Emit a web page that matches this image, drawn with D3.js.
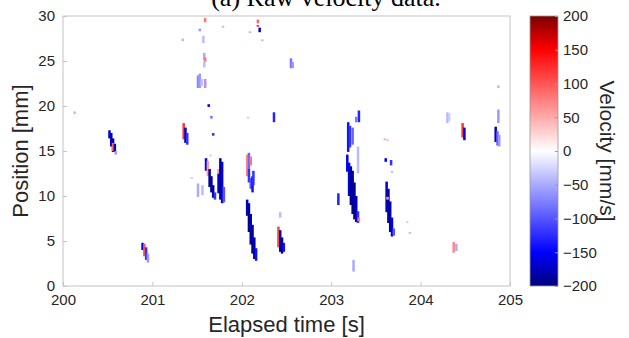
<!DOCTYPE html>
<html lang="en">
<head>
<meta charset="utf-8">
<title>Raw velocity data</title>
<script src="https://cdn.jsdelivr.net/npm/d3@7"></script>
<style>
  body { margin: 0; background: #fff; }
  text { font-family: "Liberation Sans", Arial, sans-serif; fill: #262626; }
  .title { font-family: "Liberation Serif", "Times New Roman", serif; fill: #000; }
</style>
</head>
<body>
<script>
// ticks
const xTicks = [200, 201, 202, 203, 204, 205];
const yTicks = [0, 5, 10, 15, 20, 25, 30];
const cbTicks = [-200, -150, -100, -50, 0, 50, 100, 150, 200];

// velocity cells: [time s, pos from mm, pos to mm, velocity mm/s]
const burst200 = [
  [200.13, 19.1, 19.4, -40],
  [200.52, 16.4, 17.3, -160], [200.54, 15.5, 17.0, -170], [200.56, 14.9, 16.4, -190],
  [200.56, 15.0, 15.9, 90], [200.58, 14.9, 15.8, -180], [200.59, 14.6, 15.0, -60],
  [200.89, 4.0, 4.8, -150], [200.91, 3.3, 4.7, 100], [200.93, 2.9, 4.3, -120],
  [200.95, 2.6, 3.6, -60]
];
const burst201 = [
  [201.35, 16.3, 18.1, 120], [201.37, 15.9, 17.6, -170], [201.39, 15.7, 17.0, -120],
  [201.34, 27.2, 27.5, -40],
  [201.59, 29.3, 29.8, 80], [201.53, 28.3, 28.6, -60], [201.57, 27.0, 27.8, -40],
  [201.58, 25.1, 25.9, -50], [201.59, 24.9, 25.4, 80], [201.58, 24.3, 24.9, -40],
  [201.51, 22.0, 23.4, -70], [201.53, 22.0, 23.6, -60], [201.55, 22.2, 23.0, -40],
  [201.59, 22.0, 23.0, -60], [201.59, 22.2, 22.6, 70],
  [201.63, 19.9, 20.2, -150], [201.66, 18.6, 18.9, -80], [201.68, 16.7, 17.0, -120],
  [201.65, 14.4, 14.6, -30], [201.44, 11.9, 12.1, -30],
  [201.51, 9.9, 11.4, -50], [201.56, 10.1, 11.2, -40],
  [201.60, 12.8, 14.2, -160], [201.62, 12.2, 13.9, 60], [201.64, 11.0, 13.0, -190],
  [201.66, 10.4, 12.2, -190], [201.68, 9.8, 11.2, -180], [201.70, 9.6, 10.4, -120],
  [201.74, 10.3, 12.5, -170], [201.74, 12.5, 13.0, 60], [201.76, 9.6, 14.2, -190],
  [201.78, 9.2, 13.8, -160], [201.80, 9.3, 11.0, -100],
  [201.79, 28.7, 28.9, -40]
];
const burst202 = [
  [202.18, 29.2, 29.6, 90], [202.18, 28.8, 29.0, 120], [202.20, 28.2, 28.7, -170],
  [202.09, 28.1, 28.3, -40], [202.23, 27.2, 27.4, -40],
  [202.55, 24.2, 25.3, -80], [202.57, 24.2, 24.9, -60],
  [202.36, 18.2, 19.3, -130], [202.07, 18.6, 18.8, -30],
  [202.06, 12.2, 14.6, 70], [202.08, 13.0, 14.8, -90], [202.10, 13.4, 14.4, 80],
  [202.08, 11.5, 13.0, -120], [202.10, 10.8, 12.0, -100], [202.12, 10.4, 12.2, -140],
  [202.13, 11.2, 12.8, -120],
  [202.06, 7.8, 9.6, -170], [202.08, 6.0, 9.2, -190], [202.10, 4.6, 8.0, -180],
  [202.12, 3.6, 6.8, -190], [202.14, 3.0, 5.4, -180], [202.16, 2.8, 4.2, -140],
  [202.41, 4.3, 6.6, 110], [202.43, 3.8, 6.2, -180], [202.45, 3.6, 5.4, -190],
  [202.47, 3.8, 4.8, -140], [202.43, 7.6, 8.2, -40]
];
const burst203 = [
  [203.31, 18.2, 19.5, -130], [203.28, 18.2, 18.8, -80],
  [203.19, 14.9, 18.2, -140], [203.21, 15.4, 17.8, -120], [203.24, 15.7, 17.6, -90],
  [203.18, 12.7, 14.6, -150],
  [203.20, 10.0, 13.7, -160], [203.22, 9.0, 13.3, -190], [203.24, 8.0, 12.8, -190],
  [203.26, 7.4, 11.5, -190], [203.28, 7.1, 10.0, -170], [203.30, 7.0, 8.3, -120],
  [203.31, 7.2, 7.6, 80], [203.30, 12.5, 15.5, -40],
  [203.08, 9.0, 10.3, -130], [203.25, 1.6, 2.9, -50],
  [203.61, 13.8, 14.2, -150], [203.67, 13.4, 14.0, -120], [203.68, 12.6, 12.8, -40],
  [203.63, 16.1, 16.3, 40], [203.60, 16.2, 16.4, -40],
  [203.62, 8.2, 11.6, -170], [203.64, 7.0, 10.8, -190], [203.63, 9.6, 9.9, 60],
  [203.66, 6.0, 9.4, -180], [203.68, 5.5, 7.6, -160], [203.70, 5.6, 6.4, -100],
  [203.85, 7.0, 7.2, -30], [203.88, 5.8, 6.0, -40]
];
const burst204 = [
  [204.30, 18.1, 19.3, -40], [204.32, 18.3, 19.2, -30],
  [204.47, 16.5, 18.1, 120], [204.49, 16.2, 17.6, -160],
  [204.37, 3.7, 4.9, 70], [204.40, 3.9, 4.7, -50],
  [204.84, 16.0, 17.7, -170], [204.86, 15.6, 17.2, -90], [204.88, 15.5, 16.8, -60],
  [204.87, 18.1, 19.6, -60], [204.87, 22.0, 22.3, -40]
];
const cells = [...burst200, ...burst201, ...burst202, ...burst203, ...burst204];

const W = 629, H = 338;
const plot = { left: 63, right: 510, top: 16, bottom: 286 };
const cb = { left: 530, right: 558 };
const cellWidth = 0.028;

const svg = d3.select('body').append('svg')
  .attr('width', W).attr('height', H);

const x = d3.scaleLinear().domain([200, 205]).range([plot.left, plot.right]);
const y = d3.scaleLinear().domain([0, 30]).range([plot.bottom, plot.top]);
const color = d3.scaleLinear()
  .domain([-200, -150, 0, 150, 200])
  .range(['#00007d', '#0000ff', '#ffffff', '#ff0000', '#7d0000']);

// cells
svg.append('g').selectAll('rect')
  .data(cells)
  .join('rect')
    .attr('x', d => x(d[0] - cellWidth / 2))
    .attr('width', x(200 + cellWidth) - x(200))
    .attr('y', d => y(d[2]))
    .attr('height', d => y(d[1]) - y(d[2]))
    .attr('fill', d => color(d[3]));

// axes box
svg.append('rect')
  .attr('x', plot.left).attr('y', plot.top)
  .attr('width', plot.right - plot.left).attr('height', plot.bottom - plot.top)
  .attr('fill', 'none').attr('stroke', '#c4c4c4');

const xAxis = svg.append('g')
  .attr('transform', `translate(0, ${plot.bottom})`)
  .call(d3.axisBottom(x).tickValues(xTicks).tickFormat(d3.format('d'))
    .tickSizeInner(-4).tickSizeOuter(0).tickPadding(8));
const yAxis = svg.append('g')
  .attr('transform', `translate(${plot.left}, 0)`)
  .call(d3.axisLeft(y).tickValues(yTicks).tickSizeInner(-4).tickSizeOuter(0).tickPadding(8));
[xAxis, yAxis].forEach(a => {
  a.select('.domain').remove();
  a.selectAll('line').attr('stroke', '#c4c4c4');
  a.selectAll('text').attr('fill', '#262626').style('font-size', '15px')
    .style('font-family', '"Liberation Sans", Arial, sans-serif');
});

// colorbar
const cbScale = d3.scaleLinear().domain([-200, 200]).range([plot.bottom, plot.top]);
const grad = svg.append('defs').append('linearGradient')
  .attr('id', 'cbgrad').attr('x1', 0).attr('y1', 1).attr('x2', 0).attr('y2', 0);
grad.selectAll('stop')
  .data(d3.range(-200, 201, 25))
  .join('stop')
    .attr('offset', d => (d + 200) / 400)
    .attr('stop-color', d => color(d));
svg.append('rect')
  .attr('x', cb.left).attr('y', plot.top)
  .attr('width', cb.right - cb.left).attr('height', plot.bottom - plot.top)
  .attr('fill', 'url(#cbgrad)').attr('stroke', '#9a9a9a').attr('stroke-width', 0.8);
const cbAxis = svg.append('g')
  .attr('transform', `translate(${cb.right}, 0)`)
  .call(d3.axisRight(cbScale).tickValues(cbTicks).tickSizeInner(-3).tickSizeOuter(0).tickPadding(5));
cbAxis.select('.domain').remove();
cbAxis.selectAll('line').attr('stroke', '#9a9a9a');
cbAxis.selectAll('text').attr('fill', '#262626').style('font-size', '15px')
  .style('font-family', '"Liberation Sans", Arial, sans-serif');

// labels
svg.append('text')
  .attr('x', (plot.left + plot.right) / 2).attr('y', 332)
  .attr('text-anchor', 'middle').style('font-size', '22px')
  .text('Elapsed time [s]');
svg.append('text')
  .attr('transform', `translate(28, ${(plot.top + plot.bottom) / 2}) rotate(-90)`)
  .attr('text-anchor', 'middle').style('font-size', '22px')
  .text('Position [mm]');
svg.append('text')
  .attr('transform', `translate(600, ${(plot.top + plot.bottom) / 2}) rotate(90)`)
  .attr('text-anchor', 'middle').style('font-size', '21px')
  .text('Velocity [mm/s]');
svg.append('text')
  .attr('class', 'title')
  .attr('x', 326).attr('y', 6)
  .attr('text-anchor', 'middle').style('font-size', '26px')
  .text('(a) Raw velocity data.');
</script>
</body>
</html>
